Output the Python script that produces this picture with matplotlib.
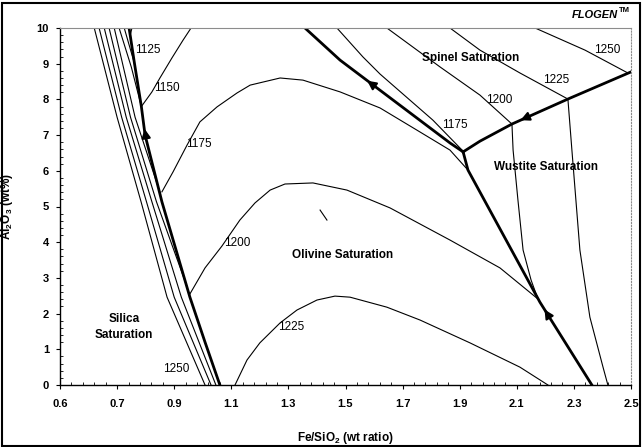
import numpy as np
import matplotlib
matplotlib.use('Agg')
import matplotlib.pyplot as plt
from matplotlib.patches import Rectangle

plt.rcParams['font.family'] = ['Liberation Sans', 'DejaVu Sans']
plt.rcParams['mathtext.fontset'] = 'custom'
plt.rcParams['mathtext.rm'] = 'Liberation Sans'
plt.rcParams['mathtext.bf'] = 'Liberation Sans:bold'

# axis ticks
x_ticks = [0.5, 0.7, 0.9, 1.1, 1.3, 1.5, 1.7, 1.9, 2.1, 2.3, 2.5]
x_tick_labels = ['0.6', '0.7', '0.9', '1.1', '1.3', '1.5', '1.7', '1.9', '2.1', '2.3', '2.5']
y_ticks = [0, 1, 2, 3, 4, 5, 6, 7, 8, 9, 10]

# thick field boundaries (Fe/SiO2, Al2O3)
silica_bd_x = [0.742, 0.761, 0.785, 0.798, 0.857, 0.955, 1.008, 1.060]
silica_bd_y = [10.0, 9.0, 7.8, 7.0, 5.13, 2.46, 1.20, 0.0]
spinel_bd_x = [1.358, 1.481, 1.866, 1.912]
spinel_bd_y = [10.0, 9.10, 6.78, 6.53]
wustite_bd_x = [1.912, 1.929, 2.181, 2.363]
wustite_bd_y = [6.53, 6.02, 2.32, 0.0]
sp_wu_bd_x = [1.912, 1.971, 2.083, 2.279, 2.5]
sp_wu_bd_y = [6.53, 6.83, 7.31, 8.01, 8.77]

# isotherms in the silica field
silica_iso = [
    ([0.620, 0.700, 0.784, 0.875, 1.008], [10.0, 7.5, 5.13, 2.46, 0.0]),
    ([0.637, 0.716, 0.803, 0.900, 1.029], [10.0, 7.5, 5.13, 2.46, 0.0]),
    ([0.655, 0.732, 0.822, 0.925, 1.046], [10.0, 7.5, 5.13, 2.46, 0.0]),
    ([0.672, 0.747, 0.838, 0.945], [10.0, 7.5, 5.13, 2.75]),
    ([0.690, 0.763, 0.852], [10.0, 7.5, 5.35]),
    ([0.707, 0.750, 0.785], [10.0, 8.9, 7.8]),
    ([0.725, 0.761], [10.0, 9.0]),
]

# isotherms in the olivine field
oliv_1125_x = [0.746, 0.752]
oliv_1125_y = [9.80, 10.0]
oliv_1150_x = [0.785, 0.822, 0.850, 0.892, 0.931, 0.959]
oliv_1150_y = [7.80, 8.21, 8.60, 9.16, 9.66, 10.0]
oliv_1175_x = [0.857, 0.896, 0.945, 0.990, 1.050, 1.120, 1.166, 1.271, 1.351,
               1.481, 1.621, 1.750, 1.866, 1.929]
oliv_1175_y = [5.41, 5.97, 6.72, 7.37, 7.79, 8.18, 8.40, 8.60, 8.54,
               8.21, 7.76, 7.14, 6.58, 6.02]
oliv_1200_x = [0.955, 1.008, 1.067, 1.130, 1.183, 1.236, 1.288, 1.386, 1.505,
               1.656, 1.866, 2.041, 2.174]
oliv_1200_y = [2.55, 3.28, 3.89, 4.62, 5.10, 5.46, 5.63, 5.66, 5.46,
               4.96, 4.06, 3.28, 2.41]
oliv_1225_x = [1.113, 1.155, 1.200, 1.271, 1.330, 1.400, 1.463, 1.516, 1.645,
               1.761, 1.936, 2.111, 2.209]
oliv_1225_y = [0.0, 0.70, 1.18, 1.74, 2.10, 2.38, 2.49, 2.46, 2.18,
               1.82, 1.18, 0.50, 0.0]

# isotherms in the spinel field
sp_1175_x = [1.470, 1.561, 1.621, 1.806, 1.912]
sp_1175_y = [10.0, 9.19, 8.71, 7.42, 6.55]
sp_1200_x = [1.645, 1.831, 1.971, 2.083]
sp_1200_y = [10.0, 8.91, 8.12, 7.31]
sp_1225_x = [1.866, 1.971, 2.111, 2.279]
sp_1225_y = [10.0, 9.38, 8.74, 8.01]
sp_1250_x = [2.164, 2.339, 2.489]
sp_1250_y = [10.0, 9.38, 8.74]

# isotherms in the wustite field
wu_1200_x = [2.083, 2.087, 2.104, 2.122, 2.150, 2.174]
wu_1200_y = [7.31, 6.58, 5.18, 3.78, 2.94, 2.41]
wu_1225_x = [2.279, 2.293, 2.321, 2.356, 2.402, 2.419]
wu_1225_y = [8.01, 6.58, 3.78, 1.90, 0.50, 0.0]

# stray mark in the olivine field
stray_x = [1.411, 1.435]
stray_y = [4.90, 4.62]

# arrows on the boundaries: (tip, tail)
arrows = [((0.795, 7.25), (0.803, 6.85)),
          ((1.568, 8.57), (1.614, 8.30)),
          ((2.104, 7.385), (2.153, 7.56)),
          ((2.192, 2.18), (2.220, 1.82))]

# isotherm labels
iso_labels = ['1125', '1150', '1175', '1200', '1225', '1250',
              '1175', '1200', '1225', '1250']
iso_label_x = [0.763, 0.829, 0.941, 1.074, 1.264, 0.861, 1.838, 1.992, 2.192, 2.370]
iso_label_y = [9.38, 8.32, 6.75, 3.98, 1.62, 0.45, 7.28, 7.98, 8.54, 9.38]

# field labels
fields = ['Spinel Saturation', 'Wustite Saturation', 'Olivine Saturation', 'Silica\nSaturation']
field_x = [1.940, 2.202, 1.488, 0.724]
field_y = [9.16, 6.11, 3.64, 1.62]

fig = plt.figure(figsize=(6.42, 4.47), dpi=100)
ax = fig.add_axes([60 / 642, 62 / 447, 571 / 642, 357 / 447])

thin = dict(color='black', lw=0.8)
thick = dict(color='black', lw=2.0)

for xs, ys in silica_iso:
    ax.plot(xs, ys, **thin)
for xs, ys in [(oliv_1125_x, oliv_1125_y), (oliv_1150_x, oliv_1150_y),
               (oliv_1175_x, oliv_1175_y), (oliv_1200_x, oliv_1200_y),
               (oliv_1225_x, oliv_1225_y), (sp_1175_x, sp_1175_y),
               (sp_1200_x, sp_1200_y), (sp_1225_x, sp_1225_y),
               (sp_1250_x, sp_1250_y), (wu_1200_x, wu_1200_y),
               (wu_1225_x, wu_1225_y), (stray_x, stray_y)]:
    ax.plot(xs, ys, **thin)

for xs, ys in [(silica_bd_x, silica_bd_y), (spinel_bd_x, spinel_bd_y),
               (wustite_bd_x, wustite_bd_y), (sp_wu_bd_x, sp_wu_bd_y)]:
    ax.plot(xs, ys, **thick)

for tip, tail in arrows:
    ax.annotate('', xy=tip, xytext=tail,
                arrowprops=dict(arrowstyle='-|>', color='black', lw=1.5,
                                mutation_scale=13))

for t, x, y in zip(iso_labels, iso_label_x, iso_label_y):
    ax.text(x, y, t, fontsize=8.5, ha='left', va='center')

for t, x, y in zip(fields, field_x, field_y):
    ax.text(x, y, t, fontsize=8.5, fontweight='bold', ha='center', va='center',
            linespacing=1.5)

ax.set_xlim(0.5, 2.5)
ax.set_ylim(0, 10)
ax.set_xticks(x_ticks)
ax.set_xticklabels(x_tick_labels)
ax.set_yticks(y_ticks)
ax.set_xticks(np.arange(0.5, 2.5, 0.04), minor=True)
ax.set_yticks(np.arange(0, 10, 0.2), minor=True)
ax.tick_params(which='major', direction='out', length=3, width=0.8, labelsize=8, pad=5)
ax.tick_params(axis='x', which='major', pad=7)
ax.tick_params(which='minor', direction='in', length=2, width=0.6)
for lab in ax.get_xticklabels() + ax.get_yticklabels():
    lab.set_fontweight('bold')

ax.spines['left'].set_linewidth(1.0)
ax.spines['bottom'].set_linewidth(1.0)
ax.spines['top'].set_color('0.55')
ax.spines['right'].set_color('0.55')
ax.spines['right'].set_linestyle(':')

ax.set_xlabel(r'Fe/SiO$_\mathbf{2}$ (wt ratio)', fontsize=8.5, fontweight='bold')
ax.set_ylabel(r'Al$_\mathbf{2}$O$_\mathbf{3}$ (wt%)', fontsize=8.5, fontweight='bold')
ax.xaxis.set_label_coords(0.499, -0.126)
ax.yaxis.set_label_coords(-0.079, 0.5)

fig.text(618 / 642, 1 - 15 / 447, 'FLOGEN', fontsize=8, fontweight='bold',
         fontstyle='italic', ha='right', va='center')
fig.text(619 / 642, 1 - 10 / 447, 'TM', fontsize=5.5, fontweight='bold',
         ha='left', va='center')

fig.patches.append(Rectangle((2 / 642, 1 / 447), 638 / 642, 443 / 447,
                             transform=fig.transFigure, fill=False,
                             edgecolor='black', lw=1.5))

fig.savefig('out.png', dpi=100)
